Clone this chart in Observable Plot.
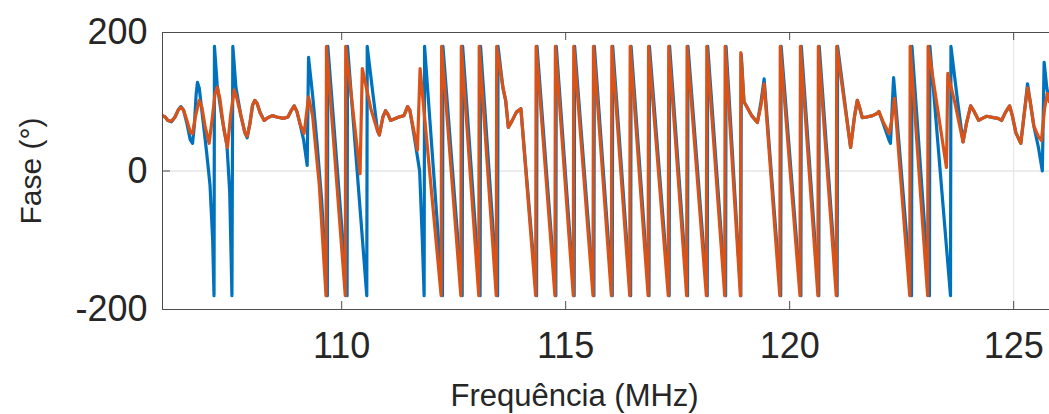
<!DOCTYPE html>
<html>
<head>
<meta charset="utf-8">
<script src="https://cdn.jsdelivr.net/npm/d3@7"></script>
<script src="https://cdn.jsdelivr.net/npm/@observablehq/plot@0.6"></script>
<style>
  html, body { margin: 0; padding: 0; background: #ffffff; }
  #chart { width: 1049px; height: 414px; overflow: hidden; }
</style>
</head>
<body>
<div id="chart"></div>
<script>
// ---- data ----
const xTicks = [110, 115, 120, 125];
const yTicks = [-200, 0, 200];
const xLabel = "Frequência (MHz)";
const yLabel = "Fase (°)";

const freqBlue = [
  106.00, 106.06, 106.12, 106.20, 106.28, 106.35, 106.41, 106.47, 106.54, 106.62,
  106.67, 106.71, 106.75, 106.78, 106.82, 106.90, 106.98, 107.06, 107.12, 107.15,
  107.16, 107.22, 107.32, 107.44, 107.50, 107.55, 107.57, 107.64, 107.75, 107.84,
  107.89, 107.95, 108.01, 108.06, 108.11, 108.18, 108.27, 108.35, 108.45, 108.55,
  108.70, 108.80, 108.88, 108.94, 109.00, 109.07, 109.15, 109.23, 109.26, 109.35,
  109.45, 109.55, 109.68, 109.69, 110.12, 110.13, 110.56, 110.57, 110.70, 110.80,
  110.84, 110.92, 110.98, 111.03, 111.09, 111.17, 111.28, 111.39, 111.44, 111.47,
  111.52, 111.62, 111.74, 111.80, 111.84, 111.85, 112.25, 112.26, 112.69, 112.70,
  113.09, 113.10, 113.48, 113.49, 113.60, 113.66, 113.72, 113.80, 113.90, 114.00,
  114.35, 114.36, 114.78, 114.79, 115.19, 115.20, 115.63, 115.64, 116.04, 116.05,
  116.45, 116.46, 116.86, 116.87, 117.31, 117.32, 117.72, 117.73, 118.16, 118.17,
  118.57, 118.58, 118.91, 118.92, 118.98, 119.05, 119.15, 119.28, 119.36, 119.43,
  119.80, 119.81, 120.25, 120.26, 120.65, 120.66, 121.06, 121.07, 121.36, 121.45,
  121.51, 121.56, 121.62, 121.72, 121.85, 121.95, 121.99, 122.08, 122.22, 122.25,
  122.32, 122.72, 122.73, 123.12, 123.13, 123.59, 123.60, 123.75, 123.87, 123.95,
  124.04, 124.10, 124.22, 124.30, 124.40, 124.55, 124.65, 124.73, 124.82, 124.91,
  124.97, 125.05, 125.16, 125.24, 125.31, 125.37, 125.45, 125.55, 125.64, 125.68,
  125.74, 125.80
];
const phaseBlue = [
  80, 78, 73, 71, 78, 88, 93, 88, 70, 45,
  40, 65, 110, 128, 120, 75, 30, -20, -100, -180,
  180, 125, 80, 36, -30, -180, 180, 120, 80, 55,
  48, 68, 95, 102, 98, 84, 73, 77, 80, 78,
  76, 78, 88, 94, 86, 68, 45, 8, 164, 110,
  40, -40, -180, 180, -180, 180, -180, 180, 110, 58,
  52, 78, 87, 82, 73, 75, 78, 80, 88, 93,
  88, 50, 0, -100, -180, 180, -180, 180, -180, 180,
  -180, 180, -180, 180, 120, 102, 63, 72, 85, 90,
  -180, 180, -180, 180, -180, 180, -180, 180, -180, 180,
  -180, 180, -180, 180, -180, 180, -180, 180, -180, 180,
  -180, 180, -180, 168, 100, 92, 80, 70, 100, 133,
  -180, 180, -180, 180, -180, 180, -180, 180, 34, 80,
  102, 92, 77, 78, 80, 83, 86, 70, 44, 40,
  135, -180, 180, -180, 180, -180, 180, 100, 42, 70,
  94, 88, 73, 76, 79, 77, 76, 73, 85, 94,
  80, 55, 40, 85, 126, 100, 65, 35, 0, 157,
  120, 100
];

const freqOrange = [
  106.00, 106.06, 106.12, 106.20, 106.28, 106.35, 106.41, 106.47, 106.55, 106.62,
  106.67, 106.74, 106.82, 106.88, 106.95, 107.04, 107.10, 107.17, 107.22, 107.28,
  107.37, 107.45, 107.52, 107.60, 107.66, 107.75, 107.84, 107.89, 107.95, 108.01,
  108.06, 108.11, 108.18, 108.27, 108.35, 108.45, 108.55, 108.70, 108.80, 108.88,
  108.94, 109.00, 109.07, 109.16, 109.26, 109.35, 109.50, 109.65, 109.66, 110.08,
  110.09, 110.41, 110.46, 110.65, 110.80, 110.84, 110.92, 110.98, 111.03, 111.09,
  111.17, 111.28, 111.39, 111.44, 111.47, 111.52, 111.62, 111.69, 111.75, 112.22,
  112.23, 112.66, 112.67, 113.06, 113.07, 113.45, 113.46, 113.60, 113.66, 113.72,
  113.80, 113.90, 114.00, 114.33, 114.34, 114.76, 114.77, 115.17, 115.18, 115.61,
  115.62, 116.02, 116.03, 116.43, 116.44, 116.84, 116.85, 117.29, 117.30, 117.70,
  117.71, 118.14, 118.15, 118.55, 118.56, 118.90, 118.91, 118.98, 119.05, 119.15,
  119.28, 119.36, 119.43, 119.78, 119.79, 120.23, 120.24, 120.63, 120.64, 121.04,
  121.05, 121.36, 121.45, 121.51, 121.56, 121.62, 121.72, 121.85, 121.95, 121.99,
  122.08, 122.22, 122.27, 122.34, 122.68, 122.69, 123.08, 123.09, 123.50, 123.53,
  123.70, 123.87, 123.95, 124.04, 124.10, 124.22, 124.30, 124.40, 124.55, 124.65,
  124.73, 124.82, 124.91, 124.97, 125.05, 125.16, 125.24, 125.31, 125.37, 125.45,
  125.55, 125.62, 125.69, 125.75, 125.80
];
const phaseOrange = [
  80, 78, 73, 72, 78, 88, 92, 88, 72, 56,
  54, 80, 102, 92, 65, 40, 70, 110, 121, 105,
  60, 34, 80, 117, 105, 80, 55, 50, 68, 95,
  102, 98, 84, 73, 77, 80, 78, 76, 78, 88,
  94, 86, 68, 54, 107, 80, -20, -180, 180, -180,
  180, -4, 148, 90, 58, 52, 78, 87, 82, 73,
  75, 78, 80, 88, 93, 88, 55, 30, 148, -180,
  180, -180, 180, -180, 180, -180, 180, 120, 102, 63,
  72, 85, 90, -180, 180, -180, 180, -180, 180, -180,
  180, -180, 180, -180, 180, -180, 180, -180, 180, -180,
  180, -180, 180, -180, 180, -180, 171, 100, 92, 80,
  70, 95, 126, -180, 180, -180, 180, -180, 180, -180,
  180, 34, 80, 102, 92, 77, 78, 80, 83, 86,
  72, 54, 70, 105, -180, 180, -180, 180, 5, 141,
  95, 42, 70, 94, 88, 73, 76, 79, 77, 76,
  73, 85, 94, 80, 55, 40, 85, 120, 100, 65,
  50, 44, 90, 112, 100
];

// ---- build tables ----
const blue = freqBlue.map((f, i) => ({f, p: phaseBlue[i]}));
const orange = freqOrange.map((f, i) => ({f, p: phaseOrange[i]}));

const axisColor = "#4d4d4d";
const textColor = "#262626";

const chart = Plot.plot({
  width: 1049,
  height: 414,
  marginLeft: 162,
  marginRight: 0,
  marginTop: 32,
  marginBottom: 105,
  x: {domain: [106, 125.8]},
  y: {domain: [-200, 200]},
  style: {
    fontFamily: "'Liberation Sans', Arial, Helvetica, sans-serif",
    color: textColor,
    background: "#ffffff"
  },
  marks: [
    Plot.ruleY([0], {stroke: "#d9d9d9", strokeWidth: 1}),
    Plot.ruleX([125], {stroke: "#e3e3e3", strokeWidth: 1}),
    Plot.line(blue, {x: "f", y: "p", stroke: "#0072BD", strokeWidth: 3.2, clip: true}),
    Plot.line(orange, {x: "f", y: "p", stroke: "#D95319", strokeWidth: 3.2, clip: true}),
    // box: top, bottom, left
    Plot.ruleY([yTicks[0], yTicks[yTicks.length - 1]], {stroke: axisColor, strokeWidth: 1}),
    Plot.ruleX([106], {stroke: axisColor, strokeWidth: 1}),
    // inward ticks
    Plot.tickX(xTicks, {x: d => d, insetTop: 269, stroke: axisColor}),
    Plot.tickX(xTicks, {x: d => d, insetBottom: 269, stroke: axisColor}),
    Plot.tickY(yTicks, {y: d => d, insetRight: 879, stroke: axisColor}),
    Plot.axisX(xTicks, {tickSize: 0, tickPadding: 23, fontSize: 36, label: null, tickFormat: d => String(d)}),
    Plot.axisY(yTicks, {tickSize: 0, tickPadding: 15, fontSize: 36, label: null, tickFormat: d => String(d)}),
    Plot.text([xLabel], {x: () => 115.2, frameAnchor: "bottom", dy: 96, lineAnchor: "bottom", textAnchor: "middle", fontSize: 31, fill: textColor}),
    Plot.text([yLabel], {frameAnchor: "left", dx: -131, rotate: -90, textAnchor: "middle", lineAnchor: "middle", fontSize: 30, fill: textColor})
  ]
});
document.getElementById("chart").appendChild(chart);
</script>
</body>
</html>
